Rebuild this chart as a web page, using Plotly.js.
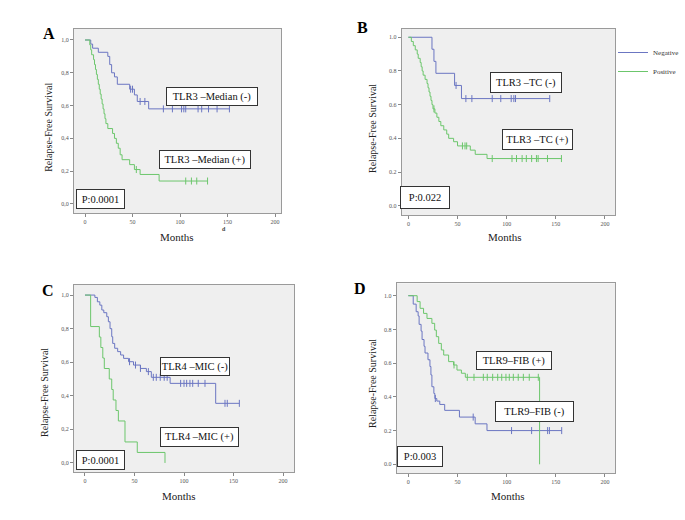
<!DOCTYPE html>
<html><head><meta charset="utf-8">
<script src="https://cdn.plot.ly/plotly-3.0.1.min.js"></script>
<style>html,body{margin:0;padding:0;background:#fff}#chart{width:685px;height:520px}</style>
</head><body><div id="chart"></div>
<script>
// ---------- DATA (Kaplan-Meier steps: time in months, survival) ----------
const groupNames = ['Negative', 'Positive'];
const xTickVals = [0, 50, 100, 150, 200];
const yTickVals = [0, 0.2, 0.4, 0.6, 0.8, 1.0];
const yTickTextComma = ['0,0', '0,2', '0,4', '0,6', '0,8', '1,0'];
const yTickTextDot = ['0.0', '0.2', '0.4', '0.6', '0.8', '1.0'];
const panelLetters = ['A', 'B', 'C', 'D'];
const xTitle = 'Months';
const yTitle = 'Relapse-Free Survival';

// Panel A: TLR3 - Median
const aNegT = [0, 6, 8, 14, 24, 26, 28, 31, 34, 47, 52, 55, 67];
const aNegS = [1.0, 0.975, 0.95, 0.925, 0.90, 0.85, 0.80, 0.775, 0.73, 0.70, 0.665, 0.625, 0.58];
const aNegCens = [48, 50, 58, 63, 82.5, 92, 101.6, 104, 106, 119, 122.8, 130, 139, 152];
const aPosT = [0, 5, 6, 7, 9, 10, 11, 12, 13, 14, 15, 16, 17, 18, 19, 20, 21, 22, 24, 29, 31, 33, 35, 37, 39, 47, 52, 58, 78];
const aPosS = [1.0, 0.97, 0.94, 0.91, 0.88, 0.85, 0.82, 0.79, 0.76, 0.73, 0.70, 0.67, 0.64, 0.61, 0.58, 0.55, 0.52, 0.49, 0.46, 0.43, 0.40, 0.37, 0.34, 0.30, 0.27, 0.24, 0.21, 0.18, 0.14];
const aPosCens = [54, 106, 112, 117.6, 129];
const aLabels = ['TLR3 \u2013Median (-)', 'TLR3 \u2013Median (+)', 'P:0.0001'];

// Panel B: TLR3 - TC
const bNegT = [0, 24, 26, 28, 47, 54];
const bNegS = [1.0, 0.929, 0.857, 0.786, 0.714, 0.636];
const bNegCens = [48.5, 58.5, 64.6, 85.3, 94, 104.6, 107.3, 109, 143.8];
const bPosT = [0, 3, 5, 7, 9, 10, 12, 13, 14, 15, 17, 19, 20, 21, 22, 23, 24, 25, 27, 29, 31, 33, 36, 39, 41, 46, 50, 63, 68, 80];
const bPosS = [1.0, 0.975, 0.95, 0.925, 0.90, 0.875, 0.85, 0.825, 0.80, 0.775, 0.75, 0.725, 0.70, 0.675, 0.65, 0.625, 0.60, 0.575, 0.55, 0.525, 0.50, 0.475, 0.45, 0.425, 0.40, 0.38, 0.355, 0.33, 0.305, 0.28];
const bPosCens = [26, 55, 57.6, 59.3, 85.3, 105.4, 110, 115.7, 120, 125.4, 130.3, 132, 141.5, 155.7];
const bLabels = ['TLR3 \u2013TC (-)', 'TLR3 \u2013TC (+)', 'P:0.022'];

// Panel C: TLR4 - MIC
const cNegT = [0, 10, 12.5, 15, 17, 19, 22, 23.6, 25.3, 27, 28, 30, 33, 36, 39, 44, 49, 56, 62, 67, 86, 132];
const cNegS = [1.0, 0.986, 0.96, 0.94, 0.911, 0.895, 0.871, 0.841, 0.80, 0.752, 0.712, 0.683, 0.663, 0.643, 0.623, 0.603, 0.583, 0.563, 0.544, 0.51, 0.474, 0.355];
const cNegCens = [45, 51, 56, 64, 69, 72, 76, 80, 83, 96.6, 100, 102.7, 106, 108.8, 114.4, 121.2, 141.4, 143.7, 155.9];
const cPosT = [0, 5.7, 14.5, 16, 18, 19.5, 24.5, 27, 28.5, 31.3, 33.7, 40.4, 52.8, 80.8];
const cPosS = [1.0, 0.8125, 0.75, 0.6875, 0.625, 0.5625, 0.5, 0.4375, 0.375, 0.3125, 0.25, 0.125, 0.0625, 0];
const cPosCens = [];
const cLabels = ['TLR4 \u2013MIC (-)', 'TLR4 \u2013MIC (+)', 'P:0.0001'];

// Panel D: TLR9 - FIB
const dNegT = [0, 5, 8, 10, 11, 13, 14, 16, 17, 20, 22, 23, 24, 26, 27, 29, 32, 37, 52, 68, 80];
const dNegS = [1.0, 0.95, 0.905, 0.88, 0.83, 0.79, 0.74, 0.70, 0.66, 0.62, 0.58, 0.53, 0.46, 0.42, 0.39, 0.375, 0.355, 0.32, 0.28, 0.24, 0.20];
const dNegCens = [27.5, 66, 105, 125.4, 141.7, 143.5, 156];
const dPosT = [0, 9, 12, 15.5, 19, 24, 26.8, 28.5, 30.9, 33.6, 36, 41, 46, 49.5, 54, 58, 133.5];
const dPosS = [1.0, 0.965, 0.925, 0.895, 0.865, 0.836, 0.796, 0.757, 0.717, 0.678, 0.648, 0.609, 0.589, 0.559, 0.54, 0.516, 0];
const dPosCens = [46.5, 60, 66.8, 76.3, 80.3, 85.8, 90.9, 95, 99.3, 102.7, 106.8, 111.8, 117, 123, 132.2];
const dLabels = ['TLR9\u2013FIB (+)', 'TLR9\u2013FIB (-)', 'P:0.003'];

// ---------- LAYOUT / STYLE ----------
const W = 685, H = 520;
const BLUE = '#6b76c2', GREEN = '#6cc66c';
const SERIF = 'Liberation Serif, Times New Roman, serif';
const px = x => x / W;
const py = y => 1 - y / H;

// pixel boxes of plot areas, axis ranges
const panels = [
  {box: [74, 29, 281, 213], xr: [-11.6, 206.3], yr: [-0.055, 1.067], tt: yTickTextComma,
   neg: [aNegT, aNegS, aNegCens], pos: [aPosT, aPosS, aPosCens], labels: aLabels,
   boxes: [[212.2, 96.3, 90, 17], [205.3, 159.5, 90, 17], [100.5, 199.2, 47, 18]],
   letter: [48.5, 33], ytitle: [48.3, 127.5], xtitle: [176.7, 237]},
  {box: [401.7, 29, 615, 215], xr: [-6.8, 210.2], yr: [-0.055, 1.049], tt: yTickTextDot,
   neg: [bNegT, bNegS, bNegCens], pos: [bPosT, bPosS, bPosCens], labels: bLabels,
   boxes: [[525.5, 82, 70, 19], [537.7, 140, 69, 19], [424.7, 197.8, 48, 21]],
   letter: [362, 27], ytitle: [372, 129], xtitle: [505, 237.3]},
  {box: [74, 285, 294, 472], xr: [-11.1, 211.1], yr: [-0.054, 1.06], tt: yTickTextComma,
   neg: [cNegT, cNegS, cNegCens], pos: [cPosT, cPosS, cPosCens], labels: cLabels,
   boxes: [[194.7, 366.2, 68, 17], [199.2, 437, 77, 18], [100.5, 459.5, 47, 18]],
   letter: [47.5, 290], ytitle: [44, 393], xtitle: [179, 496]},
  {box: [396.7, 283.3, 615, 473], xr: [-11.8, 210.2], yr: [-0.0516, 1.0735], tt: yTickTextDot,
   neg: [dNegT, dNegS, dNegCens], pos: [dPosT, dPosS, dPosCens], labels: dLabels,
   boxes: [[514.2, 360.5, 74, 17], [534.8, 411.7, 77, 19], [420.2, 456.7, 44, 19]],
   letter: [360, 288], ytitle: [372, 384], xtitle: [508, 495.7]}
];

function survAt(T, S, t) {
  let v = S[0];
  for (let i = 0; i < T.length; i++) { if (T[i] <= t) v = S[i]; }
  return v;
}

const traces = [];
const layout = {
  width: W, height: H, margin: {l: 0, r: 0, t: 0, b: 0},
  paper_bgcolor: '#ffffff', plot_bgcolor: '#efefef',
  showlegend: true,
  legend: {x: px(613), y: py(38), xanchor: 'left', yanchor: 'top',
           font: {family: SERIF, size: 7, color: '#333'}, bgcolor: 'rgba(0,0,0,0)',
           itemwidth: 30, tracegroupgap: 0},
  annotations: [], shapes: []
};

panels.forEach((p, i) => {
  const n = i + 1;
  const xa = 'x' + (n === 1 ? '' : n), ya = 'y' + (n === 1 ? '' : n);
  const [x0, y0, x1, y1] = p.box;
  const axCommon = {showline: true, mirror: true, linecolor: '#9a9a9a', linewidth: 1,
    ticks: 'outside', ticklen: 3, tickcolor: '#888', showgrid: false, zeroline: false,
    tickfont: {family: SERIF, size: 6, color: '#555'}, fixedrange: true};
  layout['xaxis' + (n === 1 ? '' : n)] = Object.assign({}, axCommon, {
    domain: [px(x0), px(x1)], range: p.xr, anchor: ya, tickmode: 'array', tickvals: xTickVals});
  layout['yaxis' + (n === 1 ? '' : n)] = Object.assign({}, axCommon, {
    domain: [py(y1), py(y0)], range: p.yr, anchor: xa, tickmode: 'array',
    tickvals: yTickVals, ticktext: p.tt});

  [[p.neg, BLUE, groupNames[0]], [p.pos, GREEN, groupNames[1]]].forEach(([d, col, name]) => {
    const [T, S, C] = d;
    const x = T.slice(), y = S.slice();
    const lastC = C.length ? Math.max(...C) : -Infinity;
    if (lastC > T[T.length - 1]) { x.push(lastC); y.push(S[S.length - 1]); }
    traces.push({type: 'scatter', mode: 'lines', x: x, y: y, xaxis: xa, yaxis: ya,
      line: {shape: 'hv', color: col, width: 1}, name: name, legendgroup: name,
      showlegend: i === 0, hoverinfo: 'skip'});
    if (C.length) {
      traces.push({type: 'scatter', mode: 'markers', x: C, y: C.map(t => survAt(T, S, t)),
        xaxis: xa, yaxis: ya, name: name, legendgroup: name, showlegend: false,
        marker: {symbol: 'line-ns', size: 5, line: {width: 1, color: col}, color: col},
        hoverinfo: 'skip'});
    }
  });

  // boxed labels
  p.labels.forEach((txt, k) => {
    const [cx, cy, bw, bh] = p.boxes[k];
    layout.annotations.push({xref: 'paper', yref: 'paper', x: px(cx), y: py(cy),
      xanchor: 'center', yanchor: 'middle', text: txt, showarrow: false,
      width: bw, height: bh, borderpad: 0, borderwidth: 1, bordercolor: '#333',
      bgcolor: '#ffffff', font: {family: SERIF, size: 10.5, color: '#111'}, align: 'center', valign: 'middle'});
  });
  // panel letter
  layout.annotations.push({xref: 'paper', yref: 'paper', x: px(p.letter[0]), y: py(p.letter[1]),
    xanchor: 'center', yanchor: 'middle', text: '<b>' + panelLetters[i] + '</b>', showarrow: false,
    font: {family: SERIF, size: 16, color: '#000'}});
  // axis titles
  layout.annotations.push({xref: 'paper', yref: 'paper', x: px(p.ytitle[0]), y: py(p.ytitle[1]),
    xanchor: 'center', yanchor: 'middle', text: yTitle, textangle: -90, showarrow: false,
    font: {family: SERIF, size: 10, color: '#222'}});
  layout.annotations.push({xref: 'paper', yref: 'paper', x: px(p.xtitle[0]), y: py(p.xtitle[1]),
    xanchor: 'center', yanchor: 'middle', text: xTitle, showarrow: false,
    font: {family: SERIF, size: 11, color: '#222'}});
});

// stray mark in panel A
layout.annotations.push({xref: 'paper', yref: 'paper', x: px(224.3), y: py(229.3),
  xanchor: 'center', yanchor: 'middle', text: '<b>d</b>', showarrow: false,
  font: {family: SERIF, size: 6, color: '#444'}});

Plotly.newPlot('chart', traces, layout, {displayModeBar: false, staticPlot: true});
</script>
</body></html>
